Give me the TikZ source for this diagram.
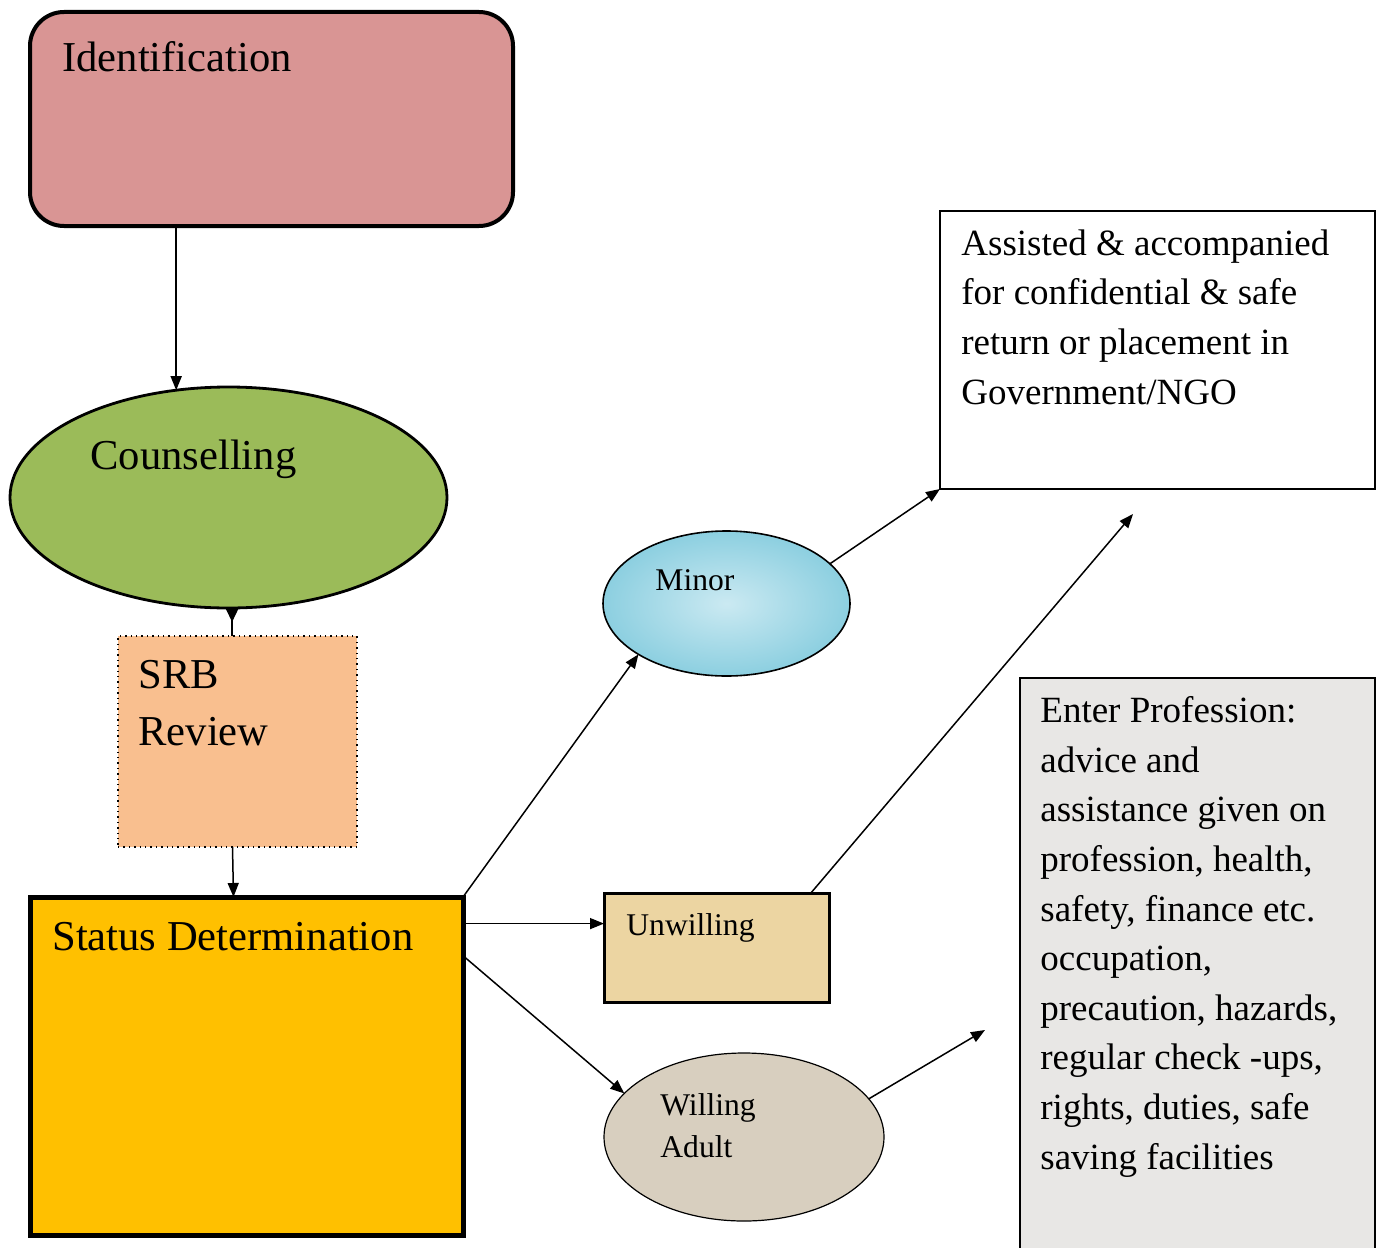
\documentclass[tikz,border=0pt]{standalone}
\usepackage{fontspec}
\setmainfont{Liberation Serif}
\usepackage{xcolor}
\usetikzlibrary{shapes.geometric, arrows.meta, positioning}

\definecolor{identpink}{HTML}{D99594}
\definecolor{counselgreen}{HTML}{9BBB59}
\definecolor{srbpeach}{HTML}{F9BF8F}
\definecolor{statusgold}{HTML}{FFC000}
\definecolor{minorblue}{HTML}{A8DBE9}
\definecolor{minorblueout}{HTML}{8CCFE0}
\definecolor{papyrus}{HTML}{ECD5A2}
\definecolor{linen}{HTML}{D8CFBF}
\definecolor{paper}{HTML}{E8E7E5}

\begin{document}
\begin{tikzpicture}[
            x=0.5pt, y=-0.5pt,
            shp/.style={draw, inner sep=0pt, outer sep=0pt},
            arr/.style={-{Triangle[length=7pt, width=5.5pt]}, line width=0.75pt},
            bigtxt/.style={font=\fontsize{21.3}{28.5}\selectfont, align=left, inner sep=0pt, anchor=base west},
            boxtxt/.style={font=\fontsize{18.5}{24.8}\selectfont, align=left, inner sep=0pt, anchor=base west},
            smalltxt/.style={font=\fontsize{15.8}{21}\selectfont, align=left, inner sep=0pt, anchor=base west}
        ]
        \useasboundingbox (0,0) rectangle (1380,1247);

        % Main column
        \node[shp, rectangle, rounded corners=17pt, line width=2pt, fill=identpink,
              minimum width=241.5pt, minimum height=107pt] (ident) at (271.5,119) {};
        \node[shp, ellipse, line width=1.4pt, fill=counselgreen,
              minimum width=218.5pt, minimum height=110.5pt] (counsel) at (228.5,497.5) {};
        \node[shp, rectangle, dotted, line width=0.7pt, fill=srbpeach,
              minimum width=119.5pt, minimum height=105.5pt] (srb) at (237.5,741.5) {};
        \node[shp, rectangle, line width=2.5pt, fill=statusgold,
              minimum width=216.5pt, minimum height=169pt] (status) at (246.5,1066) {};

        % Outcomes
        \node[shp, ellipse, line width=0.8pt, inner color=minorblue!60, outer color=minorblueout,
              minimum width=123.5pt, minimum height=72.5pt] (minor) at (726.5,603.5) {};
        \node[shp, rectangle, line width=1.5pt, fill=papyrus,
              minimum width=112.5pt, minimum height=54.5pt] (unwill) at (716.5,947.5) {};
        \node[shp, ellipse, line width=0.6pt, fill=linen,
              minimum width=140pt, minimum height=84pt] (willing) at (744,1137) {};

        % Services
        \node[shp, rectangle, line width=0.6pt, fill=white,
              minimum width=217.5pt, minimum height=139pt] (assist) at (1157.5,350) {};
        \node[shp, rectangle, line width=0.6pt, fill=paper,
              minimum width=177.5pt, minimum height=290pt] (enter) at (1197.5,968) {};
        \coordinate (assistin) at (1133,514);
        \coordinate (enterin) at (985,1030);

        % Labels (multi-line ones sit on their last line)
        \node[bigtxt] (identlbl) at ([shift={(32,60)}]ident.north west) {Identification};
        \node[bigtxt] (counsellbl) at ([shift={(-138.5,-28.5)}]counsel.center) {Counselling};
        \node[bigtxt] (srblbl) at ([shift={(20,109)}]srb.north west) {SRB\\Review};
        \node[bigtxt] (statuslbl) at ([shift={(22,53)}]status.north west) {Status Determination};
        \node[smalltxt] (minorlbl) at ([shift={(-71.5,-13.5)}]minor.center) {Minor};
        \node[smalltxt] (unwilllbl) at ([shift={(22,42)}]unwill.north west) {Unwilling};
        \node[smalltxt] (willinglbl) at ([shift={(-84,20)}]willing.center) {Willing\\Adult};
        \node[boxtxt] (assistlbl) at ([shift={(21,193)}]assist.north west)
            {Assisted \& accompanied\\for confidential \& safe\\return or placement in\\Government/NGO};
        \node[boxtxt] (enterlbl) at ([shift={(20,491)}]enter.north west)
            {Enter Profession:\\advice and\\assistance given on\\profession, health,\\safety, finance etc.\\occupation,\\precaution, hazards,\\regular check -ups,\\rights, duties, safe\\saving facilities};

        % Connections
        \draw[arr] (ident.south -| counsel.116) -- (counsel.116);
        \draw[{Triangle[length=7pt, width=6.5pt, reversed]}-, line width=0.75pt]
            ([xshift=1.8pt]counsel.south) -- ([xshift=1.8pt]counsel.south |- srb.north);
        \draw[arr] ([xshift=-2.5pt]srb.south) -- ([xshift=-2pt]srb.south |- status.north);
        \draw[arr] (status.north east) -- (minor.210);
        \draw[arr] (status.east |- unwill.168) -- (unwill.168);
        \draw[arr] (status.27) -- (willing.160);
        \draw[arr] (minor.21) -- (assist.south west);
        \draw[arr] (unwill.30) -- (assistin);
        \draw[arr] (willing.17) -- (enterin);

    \end{tikzpicture}
\end{document}
